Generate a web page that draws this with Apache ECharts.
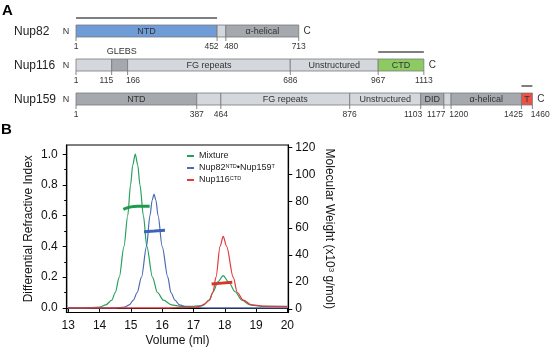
<!DOCTYPE html>
<html>
<head>
<meta charset="utf-8">
<script src="https://cdn.jsdelivr.net/npm/echarts@6/dist/echarts.min.js"></script>
<style>
html, body { margin: 0; padding: 0; background: #fff; }
#chart { width: 550px; height: 351px; }
</style>
</head>
<body>
<div id="chart"></div>
<script>
// panel A - domain maps
var proteinNames = ['Nup82', 'Nup116', 'Nup159'];
var proteinLengths = [713, 1113, 1460];
var nup82Domains = [[1, 452, 'NTD', 'ntd'], [452, 480, '', 'light'], [480, 713, 'α-helical', 'dark']];
var nup116Domains = [[1, 115, '', 'light'], [115, 166, '', 'dark'], [166, 686, 'FG repeats', 'light'],
    [686, 967, 'Unstructured', 'light'], [967, 1113, 'CTD', 'ctd']];
var nup159Domains = [[1, 387, 'NTD', 'dark'], [387, 464, '', 'light'], [464, 876, 'FG repeats', 'light'],
    [876, 1103, 'Unstructured', 'light'], [1103, 1177, 'DID', 'dark'], [1177, 1200, '', 'light'],
    [1200, 1425, 'α-helical', 'dark'], [1425, 1460, 'T', 'tail']];
var nup82Marks = [1, 452, 480, 713];
var nup116Marks = [1, 115, 166, 686, 967, 1113];
var nup159Marks = [1, 387, 464, 876, 1103, 1177, 1200, 1425, 1460];
// constructs used in panel B (bars above the maps)
var fragmentRows = [0, 1, 2];
var fragmentStart = [1, 967, 1425];
var fragmentEnd = [452, 1113, 1460];
var motifNames = ['GLEBS'];
var motifRows = [1];
var motifStart = [115];
var motifEnd = [166];

// panel B - SEC-MALS
var seriesNames = ['Mixture', 'Nup82NTD•Nup159T', 'Nup116CTD'];
var mixVol = [13.0, 13.5, 14.0, 14.2, 14.39, 14.5, 14.63, 14.78, 14.9, 14.99, 15.06, 15.14, 15.22, 15.29, 15.4, 15.51,
    15.69, 15.85, 16.04, 16.3, 16.6, 17.0, 17.3, 17.5, 17.63, 17.78, 17.95, 18.12, 18.33, 18.55, 18.8, 19.2, 20.0];
var mixRI = [0.0, 0.0, 0.005, 0.02, 0.05, 0.1, 0.2, 0.4, 0.6, 0.8, 0.93, 1.0, 0.93, 0.8, 0.6, 0.4,
    0.2, 0.1, 0.05, 0.02, 0.01, 0.01, 0.015, 0.05, 0.105, 0.17, 0.21, 0.17, 0.105, 0.05, 0.02, 0.01, 0.01];
var complexVol = [13.0, 14.5, 14.8, 14.95, 15.08, 15.2, 15.34, 15.5, 15.61, 15.68, 15.74, 15.8, 15.87, 16.0,
    16.18, 16.28, 16.41, 16.55, 16.8, 17.5, 20.0];
var complexRI = [0.0, 0.0, 0.005, 0.02, 0.05, 0.1, 0.2, 0.4, 0.6, 0.7, 0.74, 0.7, 0.6, 0.4,
    0.2, 0.1, 0.05, 0.02, 0.005, 0.0, 0.0];
var ctdVol = [13.0, 16.0, 17.0, 17.2, 17.35, 17.51, 17.62, 17.72, 17.85, 17.95, 18.06, 18.27, 18.4, 18.59, 18.86, 19.2, 20.0];
var ctdRI = [0.0, 0.0, 0.003, 0.01, 0.025, 0.05, 0.1, 0.2, 0.4, 0.465, 0.4, 0.2, 0.1, 0.05, 0.02, 0.012, 0.008];
var mixMwVol = [14.76, 14.95, 15.2, 15.6];
var mixMw = [74, 75.5, 76.3, 76.3];
var complexMwVol = [15.42, 15.75, 16.09];
var complexMw = [57.3, 57.8, 58.4];
var ctdMwVol = [17.58, 17.9, 18.24];
var ctdMw = [18.5, 19.2, 19.9];
var volumeTicks = [13, 14, 15, 16, 17, 18, 19, 20];
var riTicks = [0, 0.2, 0.4, 0.6, 0.8, 1.0];
var riMinorTicks = [0.1, 0.3, 0.5, 0.7, 0.9];
var mwTicks = [0, 20, 40, 60, 80, 100, 120];

var font = 'Liberation Sans, Arial, sans-serif';
var domainColors = { ntd: '#6f9bd6', light: '#d4d7db', dark: '#a5a8ad', ctd: '#8dcb62', tail: '#ec5148' };
var legendText = {
    'Mixture': 'Mixture',
    'Nup82NTD•Nup159T': 'Nup82{s|NTD}•Nup159{s|T}',
    'Nup116CTD': 'Nup116{s|CTD}'
};

function zip(a, b) {
    return a.map(function (v, i) { return [v, b[i]]; });
}

// flatten domain / tick mark tables
var domainList = [];
[nup82Domains, nup116Domains, nup159Domains].forEach(function (list, row) {
    list.forEach(function (d) { domainList.push([row, d[0], d[1], d[2], d[3]]); });
});
var markList = [];
[nup82Marks, nup116Marks, nup159Marks].forEach(function (list, row) {
    list.forEach(function (m, i) {
        markList.push({ row: row, res: m, prev: i > 0 ? list[i - 1] : null, next: i < list.length - 1 ? list[i + 1] : null });
    });
});

var chart = echarts.init(document.getElementById('chart'));

var option = {
    animation: false,
    textStyle: { fontFamily: font },
    graphic: [
        { type: 'text', left: 2, top: 3, style: { text: 'A', font: 'bold 15px ' + font, fill: '#000' } },
        { type: 'text', left: 1, top: 122, style: { text: 'B', font: 'bold 15px ' + font, fill: '#000' } }
    ],
    grid: [
        { left: 66.7, right: 261.7, top: 145, bottom: 38.5, show: true, borderColor: '#000', borderWidth: 1.2 },
        { left: 76, right: 17.6, top: 14, height: 102 }
    ],
    legend: {
        data: seriesNames,
        orient: 'vertical',
        left: 187,
        top: 151,
        padding: 0,
        itemGap: 2,
        itemWidth: 7,
        itemHeight: 2,
        icon: 'rect',
        selectedMode: false,
        formatter: function (name) { return legendText[name]; },
        textStyle: {
            fontSize: 9, lineHeight: 10, color: '#222', fontFamily: font,
            rich: { s: { fontSize: 5.5, verticalAlign: 'top', lineHeight: 10, color: '#222' } }
        }
    },
    xAxis: [
        {
            gridIndex: 0, type: 'value', min: 12.95, max: 20.03,
            name: 'Volume (ml)', nameLocation: 'middle', nameGap: 22,
            nameTextStyle: { fontSize: 12, color: '#111' },
            axisLine: { lineStyle: { color: '#000', width: 1.2 } },
            axisTick: { customValues: volumeTicks, length: 4, lineStyle: { color: '#000' } },
            axisLabel: { customValues: volumeTicks, fontSize: 12, color: '#111', margin: 7 },
            splitLine: { show: false }
        },
        { gridIndex: 1, type: 'value', min: 1, max: 1460, show: false }
    ],
    yAxis: [
        {
            gridIndex: 0, type: 'value', position: 'left', min: -0.03, max: 1.06,
            name: 'Differential Refractive Index', nameLocation: 'middle', nameGap: 32,
            nameTextStyle: { fontSize: 12, color: '#111' },
            axisLine: { show: true, lineStyle: { color: '#000', width: 1.2 } },
            axisTick: { show: true, customValues: riTicks, length: 4, lineStyle: { color: '#000' } },
            axisLabel: {
                customValues: riTicks, fontSize: 12, color: '#111', margin: 9,
                formatter: function (v) { return v.toFixed(1); }
            },
            splitLine: { show: false }
        },
        {
            gridIndex: 0, type: 'value', position: 'right', min: -2.6, max: 121.7,
            name: 'Molecular Weight (x10{sup|3} g/mol)', nameLocation: 'middle', nameGap: 35, nameRotate: -90,
            nameTextStyle: {
                fontSize: 12, color: '#111',
                rich: { sup: { fontSize: 8, verticalAlign: 'top', color: '#111' } }
            },
            axisLine: { show: true, lineStyle: { color: '#000', width: 1.2 } },
            axisTick: { show: true, customValues: mwTicks, length: 4, lineStyle: { color: '#000' } },
            axisLabel: { customValues: mwTicks, fontSize: 12, color: '#111', margin: 7 },
            splitLine: { show: false }
        },
        {
            // minor ticks on the RI axis
            gridIndex: 0, type: 'value', position: 'left', min: -0.03, max: 1.06,
            axisLine: { show: false },
            axisTick: { show: true, customValues: riMinorTicks, length: 2.5, lineStyle: { color: '#000' } },
            axisLabel: { show: false },
            splitLine: { show: false }
        },
        { gridIndex: 1, type: 'value', min: -0.5, max: 2.5, inverse: true, show: false }
    ],
    series: [
        {
            name: seriesNames[0], type: 'line', xAxisIndex: 0, yAxisIndex: 0, data: zip(mixVol, mixRI),
            showSymbol: false, smooth: 0.3, smoothMonotone: 'x', color: '#27a05c', lineStyle: { width: 1.2 }
        },
        {
            name: seriesNames[1], type: 'line', xAxisIndex: 0, yAxisIndex: 0, data: zip(complexVol, complexRI),
            showSymbol: false, smooth: 0.3, smoothMonotone: 'x', color: '#4a6cb3', lineStyle: { width: 1.2 }
        },
        {
            name: seriesNames[2], type: 'line', xAxisIndex: 0, yAxisIndex: 0, data: zip(ctdVol, ctdRI),
            showSymbol: false, smooth: 0.3, smoothMonotone: 'x', color: '#e5393a', lineStyle: { width: 1.2 }
        },
        {
            name: 'mwMix', type: 'line', xAxisIndex: 0, yAxisIndex: 1, data: zip(mixMwVol, mixMw),
            showSymbol: false, smooth: true, color: '#1f9a4c', lineStyle: { width: 3 }, z: 4
        },
        {
            name: 'mwComplex', type: 'line', xAxisIndex: 0, yAxisIndex: 1, data: zip(complexMwVol, complexMw),
            showSymbol: false, smooth: true, color: '#3f63b8', lineStyle: { width: 3 }, z: 4
        },
        {
            name: 'mwCtd', type: 'line', xAxisIndex: 0, yAxisIndex: 1, data: zip(ctdMwVol, ctdMw),
            showSymbol: false, smooth: true, color: '#d9342b', lineStyle: { width: 3 }, z: 4
        },
        // domain boxes
        {
            type: 'custom', xAxisIndex: 1, yAxisIndex: 3, clip: false, silent: true,
            encode: { x: [1, 2], y: 0 },
            data: domainList.map(function (d) { return [d[0], d[1], d[2]]; }),
            renderItem: function (params, api) {
                var d = domainList[params.dataIndex];
                var a = api.coord([api.value(1), api.value(0)]);
                var b = api.coord([api.value(2), api.value(0)]);
                return {
                    type: 'group',
                    children: [
                        {
                            type: 'rect',
                            shape: { x: a[0], y: a[1] - 6, width: b[0] - a[0], height: 12 },
                            style: { fill: domainColors[d[4]], stroke: '#77797e', lineWidth: 0.8 }
                        },
                        {
                            type: 'text',
                            style: {
                                text: d[3], x: (a[0] + b[0]) / 2, y: a[1] + 0.5, align: 'center', verticalAlign: 'middle',
                                fontSize: 9, fontFamily: font, fill: '#333'
                            }
                        }
                    ]
                };
            }
        },
        // residue numbers
        {
            type: 'custom', xAxisIndex: 1, yAxisIndex: 3, clip: false, silent: true,
            encode: { x: 1, y: 0 },
            data: markList.map(function (m) { return [m.row, m.res]; }),
            renderItem: function (params, api) {
                var m = markList[params.dataIndex];
                var p = api.coord([m.res, m.row]);
                var align = 'center', x = p[0];
                if (m.next !== null && api.coord([m.next, m.row])[0] - p[0] < 23.5) {
                    align = 'right'; x = p[0] + 1.5;
                } else if (m.prev !== null && p[0] - api.coord([m.prev, m.row])[0] < 23.5) {
                    align = 'left'; x = p[0] - 1.7;
                }
                return {
                    type: 'group',
                    children: [
                        {
                            type: 'line', shape: { x1: p[0], y1: p[1] + 6, x2: p[0], y2: p[1] + 10 },
                            style: { stroke: '#666', lineWidth: 0.8 }
                        },
                        {
                            type: 'text',
                            style: {
                                text: String(m.res), x: x, y: p[1] + 15.5, align: align, verticalAlign: 'middle',
                                fontSize: 8.5, fontFamily: font, fill: '#333'
                            }
                        }
                    ]
                };
            }
        },
        // protein names, N and C
        {
            type: 'custom', xAxisIndex: 1, yAxisIndex: 3, clip: false, silent: true,
            encode: { x: 1, y: 0 },
            data: proteinNames.map(function (n, i) { return [i, proteinLengths[i]]; }),
            renderItem: function (params, api) {
                var row = api.value(0);
                var s = api.coord([1, row]);
                var e = api.coord([api.value(1), row]);
                return {
                    type: 'group',
                    children: [
                        { type: 'text', style: { text: proteinNames[params.dataIndex], x: 14, y: s[1] + 0.5, align: 'left', verticalAlign: 'middle', fontSize: 12, fontFamily: font, fill: '#222' } },
                        { type: 'text', style: { text: 'N', x: s[0] - 10, y: s[1] + 0.5, align: 'center', verticalAlign: 'middle', fontSize: 9, fontFamily: font, fill: '#333' } },
                        { type: 'text', style: { text: 'C', x: e[0] + 8.5, y: e[1] + 0.5, align: 'center', verticalAlign: 'middle', fontSize: 10, fontFamily: font, fill: '#333' } }
                    ]
                };
            }
        },
        // construct bars above the maps
        {
            type: 'custom', xAxisIndex: 1, yAxisIndex: 3, clip: false, silent: true,
            encode: { x: [1, 2], y: 0 },
            data: fragmentRows.map(function (r, i) { return [r, fragmentStart[i], fragmentEnd[i]]; }),
            renderItem: function (params, api) {
                var a = api.coord([api.value(1), api.value(0)]);
                var b = api.coord([api.value(2), api.value(0)]);
                return {
                    type: 'line', shape: { x1: a[0], y1: a[1] - 13, x2: b[0], y2: b[1] - 13 },
                    style: { stroke: '#555', lineWidth: 1.5 }
                };
            }
        },
        // motif label
        {
            type: 'custom', xAxisIndex: 1, yAxisIndex: 3, clip: false, silent: true,
            encode: { x: [1, 2], y: 0 },
            data: motifRows.map(function (r, i) { return [r, motifStart[i], motifEnd[i]]; }),
            renderItem: function (params, api) {
                var a = api.coord([api.value(1), api.value(0)]);
                var b = api.coord([api.value(2), api.value(0)]);
                return {
                    type: 'text',
                    style: {
                        text: motifNames[params.dataIndex], x: (a[0] + b[0]) / 2 + 2, y: a[1] - 13,
                        align: 'center', verticalAlign: 'middle', fontSize: 9, fontFamily: font, fill: '#333'
                    }
                };
            }
        }
    ]
};

chart.setOption(option);
</script>
</body>
</html>
